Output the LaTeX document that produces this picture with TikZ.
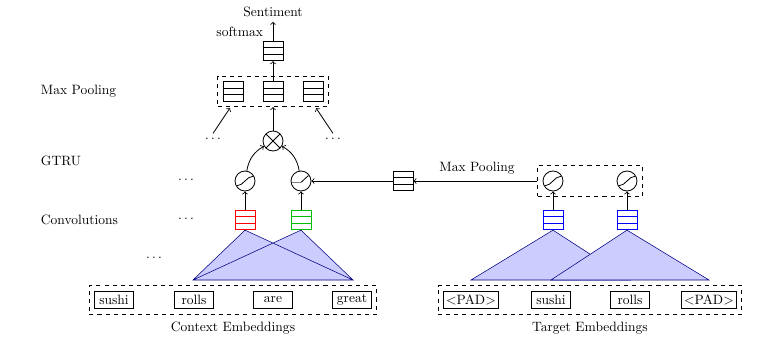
\documentclass[tikz,border=0pt]{standalone}
\usepackage{tikz}
\usetikzlibrary{calc,fit}

\begin{document}
\begin{tikzpicture}[x=0.74pt,y=-0.74pt,semithick,
    cell/.style={draw=#1, minimum width=14.8pt, minimum height=14.4pt, inner sep=0pt,
      path picture={
        \foreach \f in {0.333,0.667}
          \draw[#1] ($(path picture bounding box.south west)!\f!(path picture bounding box.north west)$)
            -- ($(path picture bounding box.south east)!\f!(path picture bounding box.north east)$);
      }},
    cell/.default=black,
    sig/.style={circle, draw, minimum size=14.8pt, inner sep=0pt,
      path picture={
        \draw ($(path picture bounding box.center)+(-6pt,-3.5pt)$)
          .. controls +(5pt,0pt) and +(-5pt,0pt) .. ($(path picture bounding box.center)+(6pt,3.5pt)$);
      }},
    relu/.style={circle, draw, minimum size=14.8pt, inner sep=0pt,
      path picture={
        \draw[gray, thick] ($(path picture bounding box.center)+(-8pt,-1pt)$) -- ($(path picture bounding box.center)+(0pt,-1pt)$);
        \draw ($(path picture bounding box.center)+(0pt,-1pt)$) -- ($(path picture bounding box.center)+(5.5pt,4pt)$);
      }},
    mult/.style={circle, draw, minimum size=14.8pt, inner sep=0pt,
      path picture={
        \draw (path picture bounding box.north west) -- (path picture bounding box.south east);
        \draw (path picture bounding box.south west) -- (path picture bounding box.north east);
      }},
    word/.style={draw, inner xsep=2pt, inner ysep=1pt, minimum width=28.5pt, minimum height=13pt},
    dashbox/.style={draw, dashed, inner sep=3.7pt},
    tri/.style={fill=blue!20, draw=blue!50!black},
  ]
  \useasboundingbox (0,0) rectangle (772,348);

  % row labels
  \node[anchor=west] (lmax) at (36,91) {Max Pooling};
  \node[anchor=west] (lgtru) at (36,161) {GTRU};
  \node[anchor=west] (lconv) at (36,220) {Convolutions};

  % context words
  \node[word] (w1) at (114,300) {sushi};
  \node[word] (w2) at (194,300) {rolls};
  \node[word] (w3) at (273,300) {are};
  \node[word] (w4) at (352,300) {great};
  \node[dashbox, fit=(w1)(w2)(w3)(w4)] (ctx) {};
  \node (lctx) at (233,328) {Context Embeddings};

  % target words
  \node[word] (v1) at (471,300) {<PAD>};
  \node[word] (v2) at (551,300) {sushi};
  \node[word] (v3) at (630,300) {rolls};
  \node[word] (v4) at (709,300) {<PAD>};
  \node[dashbox, fit=(v1)(v2)(v3)(v4)] (tgt) {};
  \node (ltgt) at (590,328) {Target Embeddings};

  % convolutions
  \node[cell=red] (c1) at (245,220) {};
  \node[cell=green!75!black] (c2) at (301,220) {};
  \node[cell=blue] (t1) at (553,220) {};
  \node[cell=blue] (t2) at (627,220) {};

  \coordinate (bl) at (193,280);
  \coordinate (br) at (353,280);
  \fill[blue!20] (bl) -- (c1.south) -- (br) -- cycle;
  \fill[blue!20] (bl) -- (c2.south) -- (br) -- cycle;
  \draw[blue!50!black, thin] (bl) -- (c1.south) -- (br) -- cycle
    (bl) -- (c2.south) -- (br);

  \coordinate (tl1) at (471,280);
  \coordinate (tr1) at (630,280);
  \coordinate (tl2) at (551,280);
  \coordinate (tr2) at (709,280);
  \filldraw[tri, thin] (tl1) -- (t1.south) -- (tr1) -- cycle;
  \filldraw[tri, thin] (tl2) -- (t2.south) -- (tr2) -- cycle;

  % gates
  \node[sig] (g1) at (245,181) {};
  \node[relu] (g2) at (301,181) {};
  \node[sig] (tg1) at (553,181) {};
  \node[sig] (tg2) at (627,181) {};
  \node[dashbox, fit=(tg1)(tg2)] (tbox) {};
  \node[cell] (pool) at (403,181) {};
  \node (lpool) at (477,168) {Max Pooling};

  \draw[->] (c1) -- (g1);
  \draw[->] (c2) -- (g2);
  \draw[->] (t1) -- (tg1);
  \draw[->] (t2) -- (tg2);
  \draw[->] (tbox.west |- tg1) -- (pool);
  \draw[->] (pool) -- (g2);

  % product and pooling
  \node[mult] (mul) at (273,141) {};
  \draw[->] (g1) to[bend left=25] (mul);
  \draw[->] (g2) to[bend right=25] (mul);

  \node[cell] (p1) at (233,91.5) {};
  \node[cell] (p2) at (273,91.5) {};
  \node[cell] (p3) at (313,91.5) {};
  \node[dashbox, fit=(p1)(p2)(p3)] (mp) {};
  \draw[->] (mul) -- (mul |- mp.south);

  \node (dl) at (213,139) {$\ldots$};
  \node (dr) at (333,139) {$\ldots$};
  \coordinate (al) at (230,108);
  \coordinate (ar) at (316,108);
  \draw[->] (dl.north) -- (al);
  \draw[->] (dr.north) -- (ar);

  \node (d1) at (186,180) {$\ldots$};
  \node (d2) at (186,219) {$\ldots$};
  \node (d3) at (154,258) {$\ldots$};

  % output
  \node[cell] (sm) at (273,51) {};
  \draw[->] (p2) -- (sm);
  \node (sent) at (273,12) {Sentiment};
  \draw[->] (sm) -- (sent);
  \node[anchor=east] (lsm) at (268,32) {softmax};
\end{tikzpicture}
\end{document}
